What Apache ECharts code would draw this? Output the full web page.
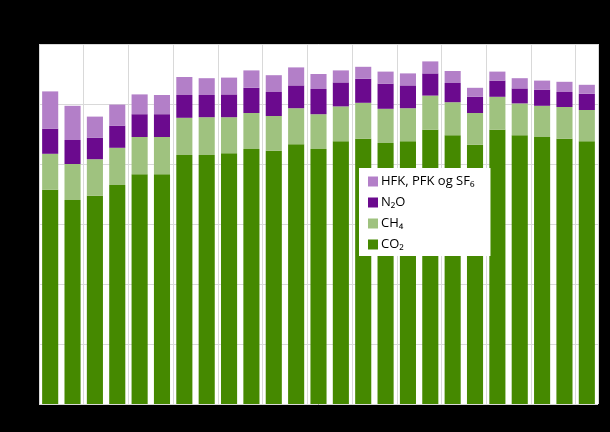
<!DOCTYPE html>
<html>
<head>
<meta charset="utf-8">
<script src="https://cdn.jsdelivr.net/npm/echarts@6/dist/echarts.min.js"></script>
<style>
html,body{margin:0;padding:0;background:#000;}
#chart{width:610px;height:432px;}
</style>
</head>
<body>
<div id="chart"></div>
<script>
var years = ['1990','1991','1992','1993','1994','1995','1996','1997','1998','1999','2000','2001','2002','2003','2004','2005','2006','2007','2008','2009','2010','2011','2012','2013','2014'];
var co2 = [35.7,34.0,34.7,36.5,38.3,38.3,41.5,41.5,41.8,42.5,42.2,43.3,42.5,43.8,44.2,43.5,43.8,45.7,44.8,43.2,45.7,44.8,44.5,44.2,43.8];
var ch4 = [6.0,6.0,6.1,6.2,6.2,6.2,6.2,6.3,6.0,6.0,5.8,6.0,5.8,5.8,6.0,5.7,5.5,5.7,5.5,5.3,5.5,5.3,5.2,5.3,5.2];
var n2o = [4.2,4.0,3.6,3.7,3.8,3.8,3.8,3.7,3.8,4.2,4.0,3.8,4.2,4.0,4.0,4.2,3.8,3.7,3.2,2.7,2.7,2.5,2.7,2.5,2.7];
var hfk = [6.2,5.7,3.5,3.5,3.3,3.2,3.0,2.8,2.8,2.9,2.8,3.0,2.5,2.0,2.0,2.0,2.0,2.0,2.0,1.5,1.5,1.7,1.5,1.7,1.5];
var yTicks = {min:0, max:60, interval:10};
var names = ['CO\u2082','CH\u2084','N\u2082O','HFK, PFK og SF\u2086'];
var colors = ['#458900','#9fc27f','#6b0a8e','#b37fc8'];

var chart = echarts.init(document.getElementById('chart'));
var datas = [co2, ch4, n2o, hfk];
var series = datas.map(function(d, i){
  return {
    name: names[i], type: 'bar', stack: 'total', data: d,
    barCategoryGap: '28%',
    itemStyle: {color: colors[i]},
    emphasis: {disabled: true}
  };
});
chart.setOption({
  backgroundColor: '#000',
  animation: false,
  textStyle: {fontFamily: 'Open Sans'},
  grid: {left: 39, right: 12, top: 44, bottom: 28, show: true, backgroundColor: '#fff', borderWidth: 0},
  legend: {
    data: [names[3], names[2], names[1], names[0]],
    orient: 'vertical', left: 359, top: 168,
    backgroundColor: '#fff',
    padding: [7, 16, 5, 9],
    itemGap: 8, itemWidth: 10, itemHeight: 10,
    icon: 'rect',
    textStyle: {color: '#000', fontSize: 13, fontFamily: 'Open Sans', padding: [0,0,0,-2]}
  },
  xAxis: {
    type: 'category', data: years,
    axisLine: {show: false}, axisTick: {show: false},
    axisLabel: {color: '#000', fontSize: 11},
    splitLine: {show: true, lineStyle: {color: '#d9d9d9', width: 1}}
  },
  yAxis: {
    type: 'value', min: yTicks.min, max: yTicks.max, interval: yTicks.interval,
    axisLine: {show: false}, axisTick: {show: false},
    axisLabel: {color: '#000', fontSize: 11},
    splitLine: {lineStyle: {color: '#d9d9d9', width: 1}}
  },
  series: series
});
</script>
</body>
</html>
